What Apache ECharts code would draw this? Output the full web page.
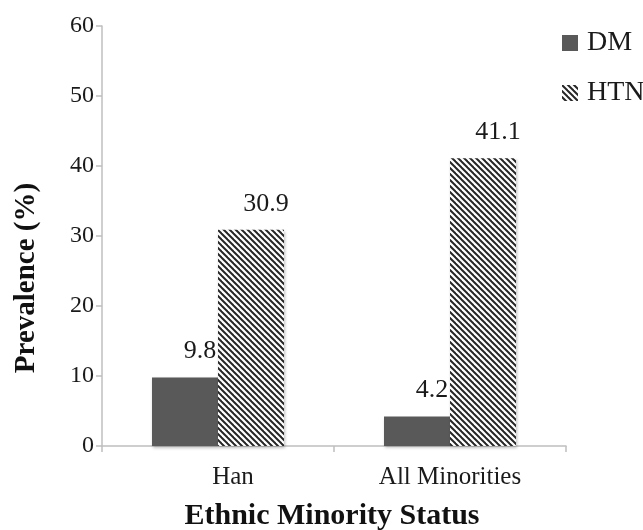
<!DOCTYPE html>
<html>
<head>
<meta charset="utf-8">
<style>
  html, body { margin: 0; padding: 0; background: #fff; }
  #chart { width: 643px; height: 530px; }
</style>
<script src="https://cdn.jsdelivr.net/npm/echarts@6/dist/echarts.min.js"></script>
</head>
<body>
<div id="chart"></div>
<script>
// Prevalence (%) of DM and HTN by ethnic minority status
const categories = ['Han', 'All Minorities'];
const dmValues = [9.8, 4.2];
const htnValues = [30.9, 41.1];
const yTicks = [0, 10, 20, 30, 40, 50, 60];

const FONT = '"Liberation Serif", "Times New Roman", serif';
const INK = '#1a1a1a';

// Diagonal hatch tile for the HTN bars
function hatchPattern() {
  const size = 6;
  const c = document.createElement('canvas');
  c.width = size; c.height = size;
  const ctx = c.getContext('2d');
  ctx.fillStyle = '#ffffff';
  ctx.fillRect(0, 0, size, size);
  ctx.strokeStyle = '#262626';
  ctx.lineWidth = 2;
  for (let k = -1; k <= 1; k++) {
    ctx.beginPath();
    ctx.moveTo(k * size - 1, -1);
    ctx.lineTo(k * size + size + 1, size + 1);
    ctx.stroke();
  }
  return { image: c, repeat: 'repeat' };
}

const hatch = hatchPattern();
const chart = echarts.init(document.getElementById('chart'), null, { renderer: 'canvas' });

const labelStyle = {
  show: true,
  position: 'top',
  distance: 5,
  offset: [15, -8],
  fontFamily: FONT,
  fontSize: 26,
  color: INK
};

const barShadow = {
  shadowBlur: 3,
  shadowColor: 'rgba(0,0,0,0.25)',
  shadowOffsetX: 1,
  shadowOffsetY: 2
};

chart.setOption({
  animation: false,
  backgroundColor: '#ffffff',
  grid: { left: 102, right: 77, top: 26, bottom: 84 },
  legend: {
    orient: 'vertical',
    left: 557,
    top: 24,
    itemWidth: 16,
    itemHeight: 16,
    itemGap: 22,
    textStyle: { fontFamily: FONT, fontSize: 28, color: INK, padding: [0, 0, 0, 4] },
    data: [
      { name: 'DM', icon: 'rect' },
      { name: 'HTN', icon: 'rect' }
    ]
  },
  xAxis: {
    type: 'category',
    data: categories,
    axisLine: { lineStyle: { color: '#bfbfbf', width: 1.5 } },
    axisTick: { show: true, length: 6, lineStyle: { color: '#bfbfbf', width: 1.5 } },
    axisLabel: {
      fontFamily: FONT,
      fontSize: 25,
      color: INK,
      margin: 19,
      formatter: (v, i) => (i === 0 ? '{first|' + v + '}' : v),
      rich: { first: { fontFamily: FONT, fontSize: 25, color: INK, padding: [0, 0, 0, 30] } }
    },
    splitLine: { show: false }
  },
  yAxis: {
    type: 'value',
    min: yTicks[0],
    max: yTicks[yTicks.length - 1],
    interval: yTicks[1] - yTicks[0],
    axisLine: { show: true, lineStyle: { color: '#bfbfbf', width: 1.5 } },
    axisTick: { show: true, length: 6, lineStyle: { color: '#bfbfbf', width: 1.5 } },
    axisLabel: { fontFamily: FONT, fontSize: 24, color: INK, margin: 8 },
    splitLine: { show: false }
  },
  series: [
    {
      name: 'DM',
      type: 'bar',
      data: dmValues,
      barWidth: 66,
      barGap: '0%',
      itemStyle: Object.assign({ color: '#595959' }, barShadow),
      label: labelStyle
    },
    {
      name: 'HTN',
      type: 'bar',
      data: htnValues,
      barWidth: 66,
      barGap: '0%',
      itemStyle: Object.assign({ color: hatch }, barShadow),
      label: labelStyle
    }
  ],
  graphic: [
    {
      type: 'text',
      x: 27,
      y: 278,
      rotation: Math.PI / 2,
      style: {
        text: 'Prevalence (%)',
        fontFamily: FONT,
        fontWeight: 'bold',
        fontSize: 29,
        fill: '#111',
        align: 'center',
        verticalAlign: 'middle'
      }
    },
    {
      type: 'text',
      x: 332,
      y: 516,
      style: {
        text: 'Ethnic Minority Status',
        fontFamily: FONT,
        fontWeight: 'bold',
        fontSize: 30,
        fill: '#111',
        align: 'center',
        verticalAlign: 'middle'
      }
    }
  ]
});
</script>
</body>
</html>
